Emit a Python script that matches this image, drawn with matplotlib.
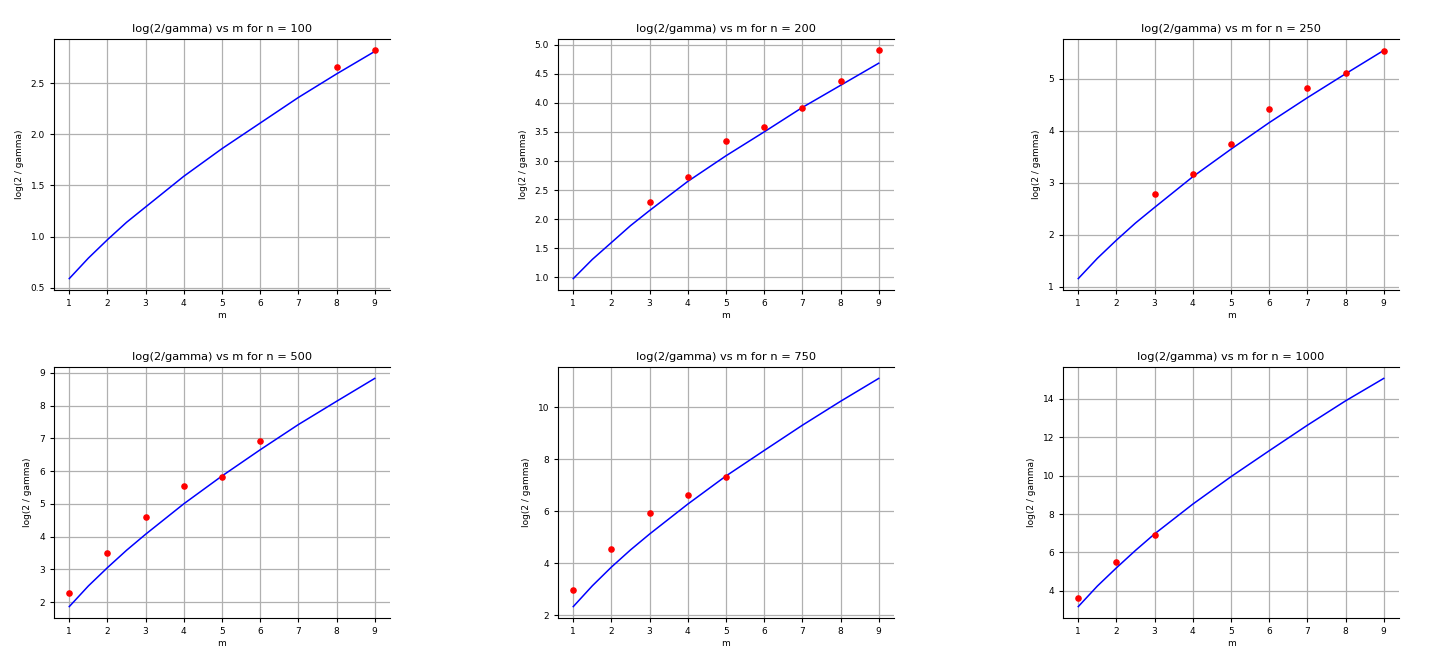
import numpy as np
import matplotlib
matplotlib.use("Agg")
import matplotlib.pyplot as plt

# n values for the six panels
ns = [100, 200, 250, 500, 750, 1000]

m_ticks = [1, 2, 3, 4, 5, 6, 7, 8, 9]
m_curve = [1, 1.5, 2, 2.5, 3, 4, 5, 6, 7, 8, 9]

# fitted curve
curve_100 = [0.59, 0.79, 0.97, 1.14, 1.29, 1.59, 1.86, 2.11, 2.36, 2.59, 2.81]
curve_200 = [0.98, 1.31, 1.60, 1.89, 2.15, 2.65, 3.09, 3.50, 3.92, 4.30, 4.68]
curve_250 = [1.16, 1.55, 1.90, 2.23, 2.53, 3.12, 3.65, 4.16, 4.64, 5.10, 5.55]
curve_500 = [1.86, 2.49, 3.05, 3.58, 4.07, 5.00, 5.85, 6.65, 7.42, 8.13, 8.83]
curve_750 = [2.33, 3.13, 3.85, 4.51, 5.12, 6.27, 7.35, 8.33, 9.30, 10.22, 11.10]
curve_1000 = [3.18, 4.25, 5.20, 6.11, 6.97, 8.52, 9.95, 11.30, 12.63, 13.90, 15.07]

# measured points
m_100 = [8, 9]
pts_100 = [2.66, 2.82]
m_200 = [3, 4, 5, 6, 7, 8, 9]
pts_200 = [2.30, 2.73, 3.35, 3.59, 3.91, 4.38, 4.90]
m_250 = [3, 4, 5, 6, 7, 8, 9]
pts_250 = [2.78, 3.17, 3.74, 4.43, 4.83, 5.12, 5.54]
m_500 = [1, 2, 3, 4, 5, 6]
pts_500 = [2.26, 3.49, 4.61, 5.54, 5.82, 6.91]
m_750 = [1, 2, 3, 4, 5]
pts_750 = [2.97, 4.55, 5.92, 6.62, 7.31]
m_1000 = [1, 2, 3]
pts_1000 = [3.65, 5.51, 6.90]

curves = [curve_100, curve_200, curve_250, curve_500, curve_750, curve_1000]
pts_m = [m_100, m_200, m_250, m_500, m_750, m_1000]
pts_y = [pts_100, pts_200, pts_250, pts_500, pts_750, pts_1000]

W, H = 1442, 654
fig = plt.figure(figsize=(W / 100, H / 100), dpi=100)

lefts = [54, 558, 1063]
tops = [39, 367]
aw, ah = 336, 251

for i, n in enumerate(ns):
    r, c = divmod(i, 3)
    ax = fig.add_axes([lefts[c] / W, 1 - (tops[r] + ah) / H, aw / W, ah / H])
    ax.plot(m_curve, curves[i], color="blue", linewidth=1.1)
    ax.scatter(pts_m[i], pts_y[i], color="red", s=14, zorder=3)
    ax.set_xticks(m_ticks)
    ax.grid(True, color="#b0b0b0", linewidth=0.9)
    ax.spines["right"].set_visible(False)
    ax.tick_params(labelsize=6.5, length=3, width=0.8)
    ax.set_title(f"log(2/gamma) vs m for n = {n}", fontsize=8.2, pad=5)
    ax.set_xlabel("m", fontsize=6.5, labelpad=2)
    ax.set_ylabel("log(2 / gamma)", fontsize=6.5, labelpad=5)

fig.savefig("out.png", dpi=100)
